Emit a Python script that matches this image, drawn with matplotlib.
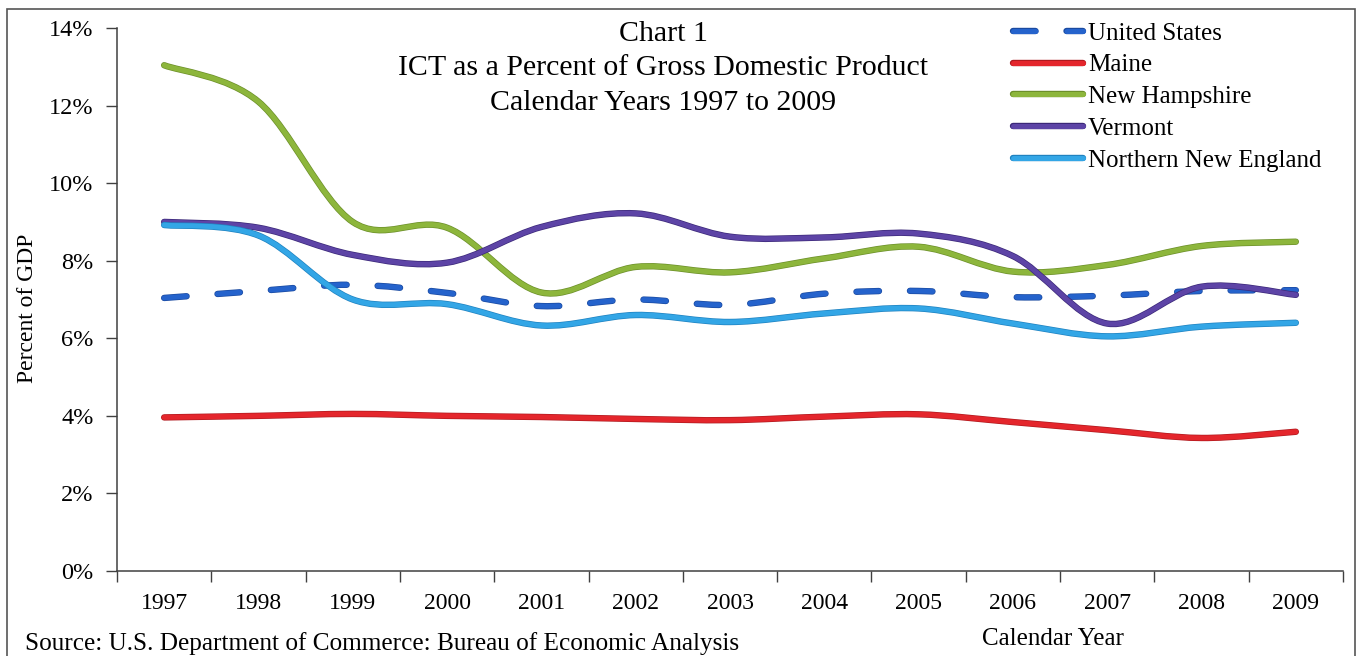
import numpy as np
import matplotlib
matplotlib.use('Agg')
import matplotlib.pyplot as plt
from matplotlib.path import Path
from matplotlib.patches import PathPatch, Rectangle
from matplotlib.lines import Line2D
import matplotlib.patheffects as pe

plt.rcParams['font.family'] = ['Liberation Serif', 'DejaVu Serif']

# data (percent of GDP)
years = ['1997', '1998', '1999', '2000', '2001', '2002', '2003',
         '2004', '2005', '2006', '2007', '2008', '2009']
us = [7.04, 7.22, 7.38, 7.17, 6.83, 7.0, 6.86, 7.15, 7.22, 7.06, 7.1, 7.22, 7.24]
maine = [3.96, 4.0, 4.05, 4.0, 3.97, 3.92, 3.89, 3.98, 4.04, 3.84, 3.63, 3.43, 3.59]
new_hampshire = [13.04, 12.1, 9.0, 8.85, 7.18, 7.84, 7.7, 8.06, 8.36, 7.72, 7.89, 8.38, 8.49]
vermont = [9.0, 8.85, 8.15, 7.95, 8.87, 9.22, 8.62, 8.6, 8.7, 8.12, 6.38, 7.33, 7.12]
northern_ne = [8.92, 8.65, 7.0, 6.88, 6.33, 6.6, 6.42, 6.64, 6.77, 6.38, 6.05, 6.3, 6.4]

series = [
    ('United States', us, '#2563cc', '#1a4aa0', (0, (4.5, 6.2))),
    ('Maine', maine, '#e4262c', '#b01a1f', '-'),
    ('New Hampshire', new_hampshire, '#8db63c', '#6c8f2a', '-'),
    ('Vermont', vermont, '#5d44a6', '#3b2878', '-'),
    ('Northern New England', northern_ne, '#33a6e6', '#1f82c0', '-'),
]


def smooth_path(vals):
    # excel style smoothed line: cubic bezier through each data point
    x = np.arange(len(vals), dtype=float)
    y = np.asarray(vals, dtype=float)
    pts = np.column_stack([x, y])
    verts = [pts[0]]
    codes = [Path.MOVETO]
    n = len(pts)
    for i in range(n - 1):
        p0 = pts[max(i - 1, 0)]
        p1 = pts[i]
        p2 = pts[i + 1]
        p3 = pts[min(i + 2, n - 1)]
        c1 = p1 + (p2 - p0) / 6.0
        c2 = p2 - (p3 - p1) / 6.0
        verts += [c1, c2, p2]
        codes += [Path.CURVE4] * 3
    return Path(verts, codes)


fig = plt.figure(figsize=(13.57, 6.56), dpi=100)
ax = fig.add_axes([117 / 1357, 1 - 571 / 656, (1343 - 117) / 1357, (571 - 28) / 656])

lw = 3.6
handles = []
for name, vals, col, dark, ls in series:
    patch = PathPatch(smooth_path(vals), facecolor='none', edgecolor=col, lw=lw,
                      linestyle=ls, capstyle='round', joinstyle='round')
    patch.set_path_effects([pe.Stroke(linewidth=lw + 1.0, foreground=dark), pe.Normal()])
    ax.add_patch(patch)
    handles.append(Line2D([], [], color=col, lw=lw, linestyle=ls,
                          dash_capstyle='round', solid_capstyle='round',
                          path_effects=[pe.Stroke(linewidth=lw + 1.0, foreground=dark), pe.Normal()]))

ax.set_xlim(-0.5, len(years) - 0.5)
ax.set_ylim(0, 14)

# category axis: ticks between years, labels centered
ax.set_xticks(np.arange(-0.5, len(years), 1.0))
ax.set_xticklabels([])
ax.set_xticks(np.arange(len(years)), minor=True)
ax.set_xticklabels(years, minor=True)
ax.tick_params(axis='x', which='major', direction='out', length=8, width=1, color='#404040')
ax.tick_params(axis='x', which='minor', length=0, pad=15.5, labelsize=17)

ax.set_yticks(np.arange(0, 15, 2))
ax.set_yticklabels(['%d%%' % v for v in range(0, 15, 2)])
ax.tick_params(axis='y', direction='out', length=8, width=1, color='#404040', pad=9, labelsize=17.5)

for s in ['top', 'right']:
    ax.spines[s].set_visible(False)
for s in ['left', 'bottom']:
    ax.spines[s].set_color('#404040')
    ax.spines[s].set_linewidth(1.1)

# titles and labels
fig.text(663 / 1357, 1 - 41 / 656, 'Chart 1', ha='center', va='baseline', fontsize=21.5)
fig.text(663 / 1357, 1 - 75 / 656, 'ICT as a Percent of Gross Domestic Product',
         ha='center', va='baseline', fontsize=21.5)
fig.text(663 / 1357, 1 - 110 / 656, 'Calendar Years 1997 to 2009',
         ha='center', va='baseline', fontsize=21.5)

fig.text(28 / 1357, 1 - 308 / 656, 'Percent of GDP', rotation=90,
         ha='center', va='center', fontsize=17)
fig.text(1053 / 1357, 1 - 645 / 656, 'Calendar Year', ha='center', va='baseline', fontsize=18)
fig.text(25 / 1357, 1 - 650 / 656, 'Source: U.S. Department of Commerce: Bureau of Economic Analysis',
         ha='left', va='baseline', fontsize=18.2)

fig.legend(handles, [s[0] for s in series], loc='upper left',
           bbox_to_anchor=(1013 / 1357, 1 - 22 / 656), frameon=False,
           fontsize=18, handlelength=2.8, handletextpad=0.2, labelspacing=0.37,
           borderpad=0, borderaxespad=0)

# outer frame of the chart
fig.add_artist(Rectangle((7 / 1357, -0.05), (1355 - 7) / 1357, 1.05 - 9 / 656,
                         transform=fig.transFigure, fill=False, ec='#555555', lw=1.2))

fig.savefig('out.png', dpi=100)
